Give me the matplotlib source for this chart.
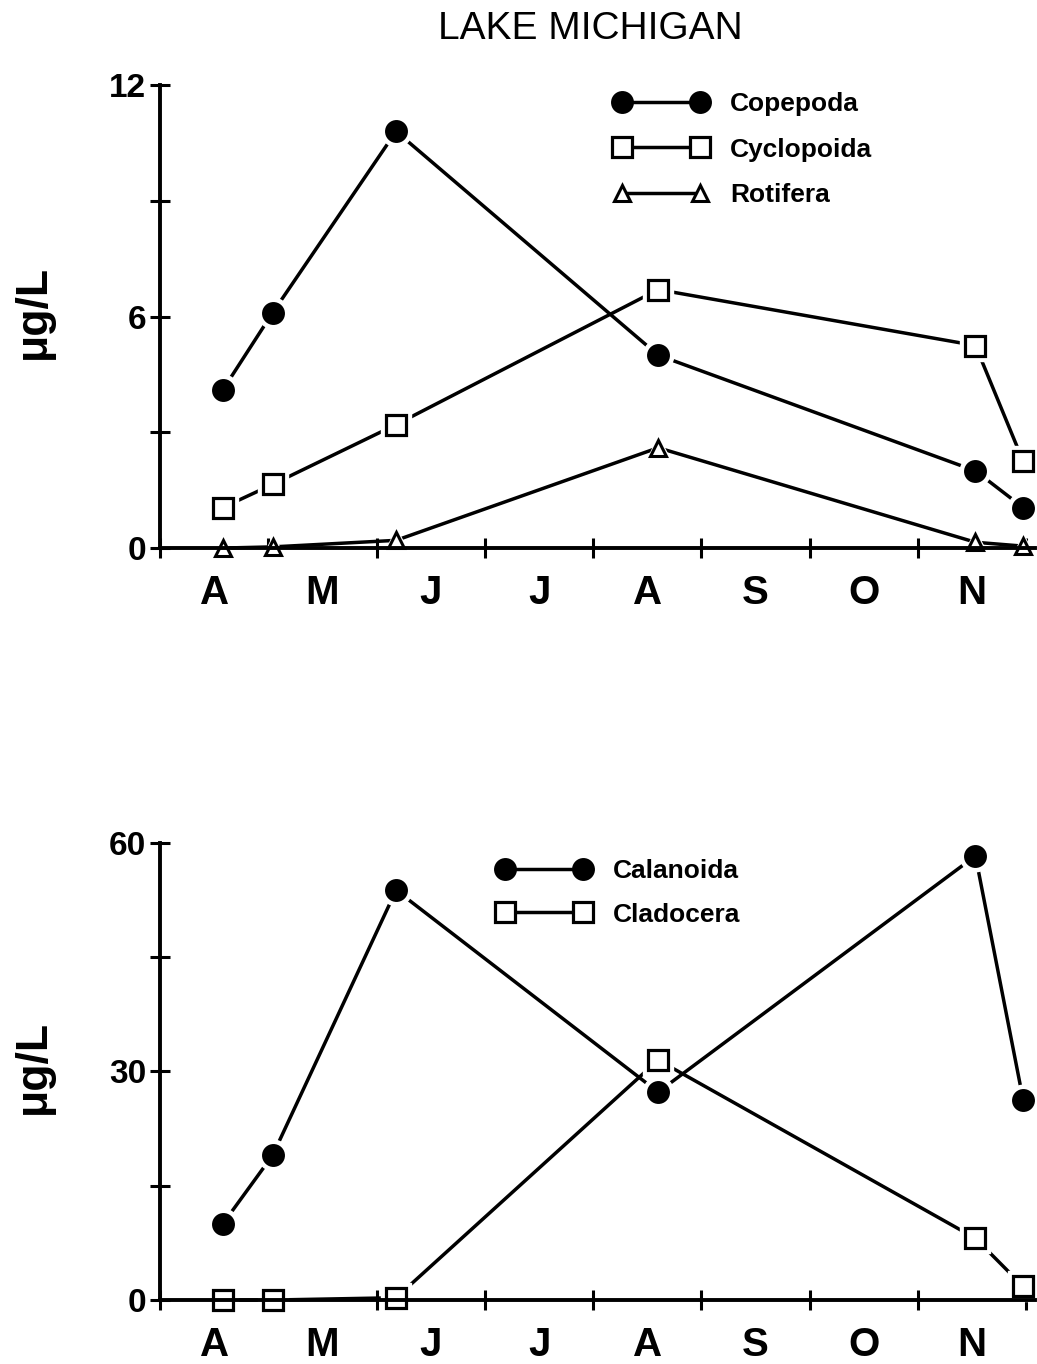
import matplotlib
matplotlib.use("Agg")
import matplotlib.pyplot as plt
from matplotlib.lines import Line2D
from matplotlib.ticker import FixedLocator, FixedFormatter, NullFormatter

plt.rcParams['font.family'] = ['Liberation Sans', 'DejaVu Sans']

# ── data (months since 1 April) ──────────────────────────────────────────
sample_month = [0.58, 1.04, 2.18, 4.60, 7.53, 7.97]
month_labels = ["A", "M", "J", "J", "A", "S", "O", "N"]

copepoda   = [4.1, 6.1, 10.8, 5.0, 2.0, 1.05]
cyclopoida = [1.05, 1.65, 3.2, 6.7, 5.25, 2.25]
rotifera   = [0.0, 0.03, 0.2, 2.6, 0.15, 0.05]

calanoida  = [10.0, 19.0, 53.8, 27.3, 58.3, 26.3]
cladocera  = [0.0, 0.0, 0.3, 31.5, 8.1, 1.8]

LW = 2.5
styles = {
    "circle":   dict(marker="o", ms=15, mfc="black", mec="black", mew=1.5),
    "square":   dict(marker="s", ms=14, mfc="white", mec="black", mew=2.3),
    "triangle": dict(marker="^", ms=11, mfc="white", mec="black", mew=2.2),
}

fig = plt.figure(figsize=(10.37, 13.64), dpi=100)
ax_top = fig.add_axes([0.1543, 0.5982, 0.8438, 0.3394])
ax_bot = fig.add_axes([0.1543, 0.0469, 0.8438, 0.3351])


def series(ax, y, kind, label):
    st = styles[kind]
    ax.plot(sample_month, y, "-", color="black", lw=LW, zorder=2, clip_on=False)
    # white halo so the line stops short of each marker
    ax.plot(sample_month, y, ls="none", marker=st["marker"], ms=st["ms"] + 7,
            mfc="white", mec="white", zorder=3, clip_on=False)
    ax.plot(sample_month, y, ls="none", zorder=4, clip_on=False, **st)
    return Line2D([], [], color="black", lw=LW, label=label, **st)


def style_axes(ax, ymax, ystep, ylabels):
    ax.set_xlim(0, 8.08)
    ax.set_ylim(0, ymax)
    for s in ("top", "right"):
        ax.spines[s].set_visible(False)
    for s in ("left", "bottom"):
        ax.spines[s].set_linewidth(2.8)
        ax.spines[s].set_zorder(5)
    ax.xaxis.set_major_locator(FixedLocator(range(0, 9)))
    ax.xaxis.set_major_formatter(NullFormatter())
    ax.xaxis.set_minor_locator(FixedLocator([i + 0.5 for i in range(8)]))
    ax.xaxis.set_minor_formatter(FixedFormatter(month_labels))
    ax.tick_params(axis="x", which="major", direction="inout", length=14, width=2.2)
    ax.tick_params(axis="x", which="minor", length=0, pad=19, labelsize=29)
    ticks = [i * ystep for i in range(5)]
    ax.yaxis.set_major_locator(FixedLocator(ticks))
    ax.yaxis.set_major_formatter(FixedFormatter(
        [ylabels.get(t, "") for t in ticks]))
    ax.tick_params(axis="y", direction="inout", length=14, width=2.2,
                   pad=3, labelsize=24)
    for lab in ax.get_xticklabels(minor=True) + ax.get_yticklabels():
        lab.set_fontweight("bold")
    ax.set_ylabel("μg/L", fontsize=32, fontweight="bold", labelpad=0)
    ax.yaxis.set_label_coords(-0.121, 0.51)


h1 = series(ax_top, copepoda, "circle", "Copepoda")
h2 = series(ax_top, cyclopoida, "square", "Cyclopoida")
h3 = series(ax_top, rotifera, "triangle", "Rotifera")
style_axes(ax_top, 12, 3, {0: "0", 6: "6", 12: "12"})

h4 = series(ax_bot, calanoida, "circle", "Calanoida")
h5 = series(ax_bot, cladocera, "square", "Cladocera")
style_axes(ax_bot, 60, 15, {0: "0", 30: "30", 60: "60"})

leg_kw = dict(frameon=False, numpoints=2, handlelength=3.56, handletextpad=0.84,
              borderpad=0, borderaxespad=0,
              prop=dict(weight="bold", size=19), loc="upper left",
              bbox_transform=fig.transFigure)
ax_top.legend(handles=[h1, h2, h3], labelspacing=0.82,
              bbox_to_anchor=(614 / 1037, 1 - 92 / 1364), **leg_kw)
ax_bot.legend(handles=[h4, h5], labelspacing=0.74,
              bbox_to_anchor=(497 / 1037, 1 - 859 / 1364), **leg_kw)

fig.text(590 / 1037, 1 - 29 / 1364, "LAKE MICHIGAN", ha="center", va="center",
         fontsize=28)

fig.savefig("out.png", dpi=100)
